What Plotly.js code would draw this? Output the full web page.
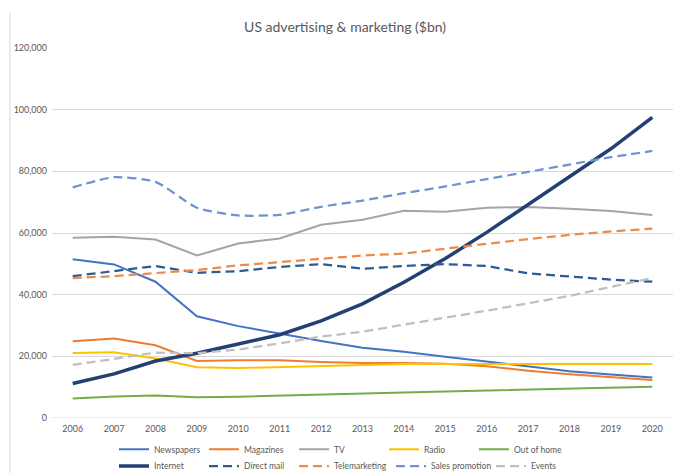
<!DOCTYPE html>
<html>
<head>
<meta charset="utf-8">
<script src="https://cdn.plot.ly/plotly-3.0.1.min.js"></script>
<style>html,body{margin:0;padding:0;background:#fff;}#chart{width:674px;height:473px;}</style>
</head>
<body>
<div id="chart"></div>
<script>
const years = ['2006','2007','2008','2009','2010','2011','2012','2013','2014','2015','2016','2017','2018','2019','2020'];
const newspapers = [51500, 49800, 44200, 33000, 29800, 27300, 25000, 22800, 21500, 19900, 18300, 16600, 15200, 14100, 13100];
const magazines = [24900, 25800, 23600, 18500, 18700, 18700, 18200, 17800, 17800, 17600, 16800, 15300, 14200, 13200, 12300];
const tv = [58500, 58800, 57900, 52700, 56600, 58200, 62700, 64300, 67200, 66900, 68200, 68400, 67900, 67100, 65800];
const radio = [21100, 21300, 19300, 16500, 16200, 16500, 17000, 17300, 17500, 17500, 17500, 17500, 17500, 17500, 17500];
const outOfHome = [6300, 7000, 7300, 6700, 6900, 7300, 7700, 8000, 8300, 8600, 8900, 9200, 9500, 9800, 10100];
const internet = [11200, 14300, 18500, 21000, 24000, 27000, 31500, 37000, 44000, 51700, 60200, 69200, 78300, 87300, 97500];
const directMail = [46000, 47600, 49300, 47100, 47600, 49000, 49900, 48400, 49300, 49900, 49300, 46900, 45800, 44900, 44200];
const telemarketing = [45400, 46000, 47000, 48000, 49500, 50500, 51500, 52700, 53300, 55000, 56500, 58000, 59400, 60500, 61400];
const salesPromotion = [74800, 78100, 76600, 68200, 65700, 65900, 68500, 70500, 72900, 75100, 77500, 79800, 82200, 84600, 86600];
const events = [17200, 19100, 21200, 21000, 22200, 24200, 26400, 28000, 30200, 32500, 34800, 37200, 39600, 42500, 45400];

const seriesNames = ['Newspapers','Magazines','TV','Radio','Out of home','Internet','Direct mail','Telemarketing','Sales promotion','Events'];
const seriesData = [newspapers, magazines, tv, radio, outOfHome, internet, directMail, telemarketing, salesPromotion, events];
const colors = ['#4472C4','#ED7D31','#A5A5A5','#FFC000','#70AD47','#243F73','#2B5C94','#F08A4B','#7092D0','#BFBFBF'];
const widths = [2, 2, 2, 2, 2, 3.5, 2.25, 2.25, 2.25, 2.25];
const dashes = ['solid','solid','solid','solid','solid','solid','9px,5px','9px,5px','9px,5px','9px,5px'];

const traces = seriesNames.map((name, i) => {
  const t = {
    type: 'scatter', mode: 'lines', name: name,
    x: years, y: seriesData[i],
    line: {color: colors[i], width: widths[i], dash: dashes[i], shape: i === 8 ? 'spline' : 'linear', smoothing: 0.6},
    legend: i < 5 ? 'legend' : 'legend2',
    hoverinfo: 'x+y+name'
  };
  if (i === 7) t.legendwidth = 52;
  if (i === 8) t.legendwidth = 55;
  return t;
});

const legendFont = {family: 'Lato, "Open Sans", sans-serif', size: 8.5, color: '#595959'};
const legendBase = {orientation: 'h', xref: 'container', yref: 'container', xanchor: 'left', yanchor: 'middle',
  entrywidth: 45, entrywidthmode: 'pixels', itemwidth: 30, font: legendFont, bgcolor: 'rgba(0,0,0,0)', traceorder: 'normal'};

const layout = {
  width: 674, height: 473,
  margin: {l: 52, r: 1, t: 48, b: 55},
  paper_bgcolor: '#ffffff', plot_bgcolor: '#ffffff',
  font: {family: 'Lato, "Open Sans", sans-serif', color: '#595959'},
  title: {text: 'US advertising & marketing ($bn)', font: {family: 'Lato, "Open Sans", sans-serif', size: 14, color: '#595959'},
    xref: 'container', x: 0.512, xanchor: 'center', yref: 'container', y: 0.943, yanchor: 'middle'},
  xaxis: {type: 'category', range: [-0.5, 14.5], showgrid: false, showline: false, zeroline: false, ticks: '',
    ticklabelstandoff: 4, tickfont: {size: 9, color: '#595959'}, fixedrange: true},
  yaxis: {range: [0, 120000], dtick: 20000, tickformat: ',d', showgrid: true, gridcolor: '#D9D9D9', gridwidth: 1,
    zeroline: false, showline: false, ticks: '', ticklabelstandoff: 4, tickfont: {size: 9, color: '#595959'}, fixedrange: true},
  showlegend: true,
  legend: Object.assign({}, legendBase, {x: 114/674, y: 23.7/473}),
  legend2: Object.assign({}, legendBase, {x: 114/674, y: 7/473}),
  shapes: [
    {type: 'line', xref: 'paper', yref: 'paper', x0: (10-52)/621, x1: (10-52)/621, y0: -55/370, y1: (417.7-13)/370,
      line: {color: '#D9D9D9', width: 1}},
    {type: 'line', xref: 'paper', yref: 'y', x0: 0, x1: 1, y0: 0, y1: 0, line: {color: '#D9D9D9', width: 1}, layer: 'below'}
  ]
};

Plotly.newPlot('chart', traces, layout, {displayModeBar: false, staticPlot: true});
</script>
</body>
</html>
